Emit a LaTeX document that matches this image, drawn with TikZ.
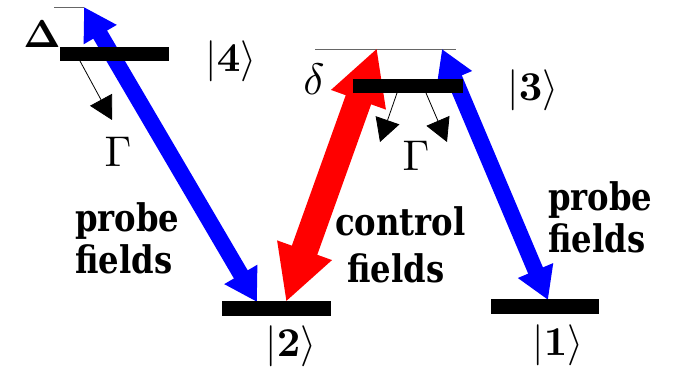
\RequirePackage{fix-cm}
\documentclass[tikz,border=0pt]{standalone}
\usepackage[no-math]{fontspec}
\usepackage{graphicx}
\usetikzlibrary{arrows.meta}
\newfontfamily\lblfont{DejaVu Serif}[FakeStretch=0.85]
\definecolor{pblue}{RGB}{0,0,255}
\definecolor{pred}{RGB}{255,0,0}
\tikzset{
  levelbar/.style={fill=black, inner sep=0pt, minimum width=109pt, minimum height=14pt},
  probearrow/.style={draw=pblue, line width=16pt,
    {Triangle[length=32pt,width=36pt]}-{Triangle[length=32pt,width=36pt]}},
  ctrlarrow/.style={draw=pred, line width=27pt,
    {Triangle[length=55pt,width=54pt]}-{Triangle[length=55pt,width=54pt]}},
  decayarrow/.style={draw=black, line width=0.8pt, -{Triangle[length=23pt,width=25pt]}},
  refline/.style={draw=black!60, line width=0.8pt},
  lbl/.style={font=\lblfont\bfseries\fontsize{38}{38}\selectfont, inner sep=0pt, anchor=base west},
  sym/.style={inner sep=0pt},
}
\begin{document}
\begin{tikzpicture}[x=1pt,y=-1pt]
\useasboundingbox (0,0) rectangle (673,369);
% end points
\coordinate (t4) at (84,7);
\coordinate (b4) at (257,302);
\coordinate (t3r) at (377,48);
\coordinate (b3r) at (286,302);
\coordinate (t3b) at (442,49);
\coordinate (b3b) at (548,300);
\coordinate (rl1a) at (54,7);
\coordinate (rl2a) at (315,49);
\coordinate (rl2b) at (456,49);
\coordinate (d4s) at (80,61);
\coordinate (d4e) at (112,120);
\coordinate (d3as) at (397,93);
\coordinate (d3ae) at (380,142);
\coordinate (d3bs) at (426,93);
\coordinate (d3be) at (447,142);
% reference lines
\draw[refline] (rl1a) -- (t4);
\draw[refline] (rl2a) -- (rl2b);
% field arrows
\draw[probearrow] (b4) -- (t4);
\draw[ctrlarrow] (b3r) -- (t3r);
\draw[probearrow] (b3b) -- (t3b);
% levels
\node[levelbar] (L4) at (114.5,54) {};
\node[levelbar, minimum width=110pt] (L3) at (408,86) {};
\node[levelbar, minimum height=15pt] (L2) at (276.5,308.5) {};
\node[levelbar, minimum width=108pt, minimum height=15pt] (L1) at (545,306.5) {};
% decays
\draw[decayarrow] (d4s) -- (d4e);
\draw[decayarrow] (d3as) -- (d3ae);
\draw[decayarrow] (d3bs) -- (d3be);
% symbols
\node[sym] (Delta) at (42,34) {\scalebox{3.9}{$\mathbf{\Delta}$}};
\node[sym] (delta) at (314,79) {\scalebox{4.4}{$\delta$}};
\node[sym] (G4) at (118,152) {\scalebox{4.3}{$\Gamma$}};
\node[sym] (G3) at (416,156) {\scalebox{4.3}{$\Gamma$}};
\node[sym] (k4) at (231,61) {\scalebox{4.1}{$|\mathbf{4}\rangle$}};
\node[sym] (k3) at (533,90) {\scalebox{4.1}{$|\mathbf{3}\rangle$}};
\node[sym] (k2) at (291,346) {\scalebox{4.1}{$|\mathbf{2}\rangle$}};
\node[sym] (k1) at (558,345) {\scalebox{4.1}{$|\mathbf{1}\rangle$}};
% labels
\node[lbl] (pl1) at (75,231) {probe};
\node[lbl] (pl2) at (75,273) {fields};
\node[lbl] (cl1) at (335,235) {control};
\node[lbl] (cl2) at (347,282) {fields};
\node[lbl] (pr1) at (548,210) {probe};
\node[lbl] (pr2) at (548,252) {fields};
\end{tikzpicture}
\end{document}
